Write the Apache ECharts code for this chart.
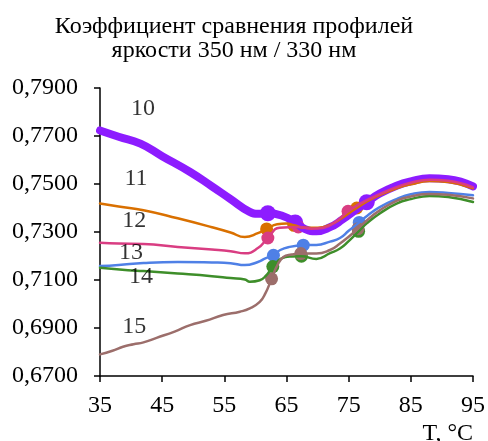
<!DOCTYPE html>
<html>
<head>
<meta charset="utf-8">
<script src="https://cdn.jsdelivr.net/npm/echarts@6/dist/echarts.min.js"></script>
<style>
  html, body { margin: 0; padding: 0; background: #fff; }
  #chart { width: 488px; height: 441px; }
</style>
</head>
<body>
<div id="chart"></div>
<script>
// Temperature (°C) and comparison coefficient per curve; markers sit at listed temperatures.
const t10 = [35, 38, 41.5, 45, 49.5, 53, 56, 59, 60.5, 62, 64.4, 66.4, 68, 69.8, 72, 74, 76, 77.9, 80, 82.7, 85, 88, 91, 95];
const v10 = [0.7723, 0.7697, 0.7668, 0.7616, 0.755, 0.749, 0.7437, 0.7385, 0.7376, 0.7378, 0.7367, 0.734, 0.7312, 0.7303, 0.732, 0.7352, 0.739, 0.7424, 0.746, 0.7493, 0.7511, 0.7524, 0.752, 0.749];
const m10 = [62, 66.4, 77.9];

const t11 = [35, 38, 42, 47.5, 53, 56, 58.3, 60.4, 61.8, 63.5, 65, 66.2, 68, 70, 72, 74, 76.3, 79, 82.7, 85, 88, 91, 95];
const v11 = [0.7419, 0.7406, 0.7391, 0.7357, 0.732, 0.7298, 0.7279, 0.7295, 0.7313, 0.7332, 0.7335, 0.7328, 0.7318, 0.7318, 0.733, 0.736, 0.740, 0.7442, 0.7482, 0.7499, 0.7512, 0.7508, 0.7482];
const m11 = [61.8, 66.2, 76.3];

const t12 = [35, 38, 42, 47.5, 53, 56, 58.3, 60.4, 62, 63.9, 66.9, 69, 71, 73, 74.9, 77, 80, 82.7, 85, 88, 91, 95];
const v12 = [0.7255, 0.7252, 0.725, 0.7238, 0.7227, 0.722, 0.7211, 0.7233, 0.7275, 0.7318, 0.7321, 0.7314, 0.7318, 0.7345, 0.7386, 0.742, 0.7458, 0.7487, 0.7505, 0.7518, 0.7514, 0.7486];
const m12 = [62, 66.9, 74.9];

const t13 = [35, 38, 42, 47.5, 53, 56, 58.3, 60.4, 61.6, 62.9, 64, 65.5, 67.7, 69.8, 72, 73.6, 75, 76.7, 78, 80, 82.7, 85, 88, 91, 95];
const v13 = [0.7158, 0.7163, 0.7171, 0.7175, 0.7173, 0.717, 0.7162, 0.7175, 0.719, 0.7203, 0.7225, 0.7238, 0.7245, 0.7246, 0.726, 0.7275, 0.7305, 0.734, 0.7368, 0.7404, 0.7437, 0.7457, 0.7467, 0.7463, 0.7453];
const m13 = [62.9, 67.7, 76.7];

const t14 = [35, 39.5, 42, 47.5, 53, 56, 58.3, 59.1, 60.7, 61.7, 62.8, 64.2, 65.8, 67.4, 69.8, 72, 73.6, 75, 76.6, 78, 80, 82.7, 85, 88, 91, 95];
const v14 = [0.7151, 0.7141, 0.7137, 0.7127, 0.7116, 0.7108, 0.7102, 0.7093, 0.7099, 0.7118, 0.7156, 0.719, 0.7198, 0.7199, 0.7188, 0.7212, 0.7231, 0.7262, 0.7303, 0.7338, 0.7377, 0.7418, 0.7437, 0.745, 0.7446, 0.7425];
const m14 = [62.8, 67.4, 76.6];

const t15 = [35, 37, 38.7, 40.4, 42, 44.1, 47, 49.5, 52, 54.8, 57.5, 59.1, 60.7, 61.6, 62.6, 63.5, 64.5, 65.8, 67.3, 69.8, 72, 73.6, 75, 76.5, 78, 80, 82.7, 85, 88, 91, 95];
const v15 = [0.679, 0.6805, 0.6822, 0.6832, 0.684, 0.6859, 0.6885, 0.6912, 0.693, 0.6954, 0.6968, 0.6982, 0.7009, 0.7044, 0.7105, 0.716, 0.7196, 0.7206, 0.721, 0.721, 0.7225, 0.7252, 0.728, 0.7314, 0.735, 0.739, 0.743, 0.7448, 0.7458, 0.7455, 0.744];
const m15 = [62.6, 67.3, 76.5];

// Curve numbers written beside each line, placed in data coordinates
const curveNames = ['10', '11', '12', '13', '14', '15'];
const nameT = [41.9, 40.8, 40.5, 40.0, 41.6, 40.5];
const nameV = [0.7815, 0.752, 0.7345, 0.7212, 0.7112, 0.6904];

const xTicks = { min: 35, max: 95, step: 10 };
const yTicks = { min: 0.67, max: 0.79, step: 0.02 };

const SERIF = '"Liberation Serif", "Times New Roman", serif';

const curves = [
  { t: t10, v: v10, m: m10, color: '#8D1CFF', width: 8, mark: 16 },
  { t: t11, v: v11, m: m11, color: '#D97000', width: 2.5, mark: 13 },
  { t: t12, v: v12, m: m12, color: '#D93D82', width: 2.5, mark: 13 },
  { t: t13, v: v13, m: m13, color: '#4F80E6', width: 2.5, mark: 13 },
  { t: t14, v: v14, m: m14, color: '#3E8E2A', width: 2.5, mark: 13 },
  { t: t15, v: v15, m: m15, color: '#9C6E6B', width: 2.5, mark: 13 }
];

const series = [];
curves.forEach(c => {
  const pts = c.t.map((t, i) => [t, c.v[i]]);
  series.push({
    type: 'line',
    data: pts,
    smooth: 0.5,
    showSymbol: false,
    lineStyle: { color: c.color, width: c.width, cap: 'round', join: 'round' },
    silent: true
  });
  series.push({
    type: 'scatter',
    data: c.m.map(t => [t, c.v[c.t.indexOf(t)]]),
    symbol: 'circle',
    symbolSize: c.mark,
    itemStyle: { color: c.color, opacity: 1 },
    silent: true
  });
});

series.push({
  type: 'scatter',
  data: curveNames.map((n, i) => [nameT[i], nameV[i], n]),
  symbolSize: 0,
  label: {
    show: true,
    position: 'inside',
    formatter: p => p.data[2],
    fontFamily: SERIF,
    fontSize: 24,
    color: '#000'
  },
  silent: true,
  z: 10
});

const chart = echarts.init(document.getElementById('chart'), null, { renderer: 'canvas' });
chart.setOption({
  animation: false,
  backgroundColor: '#fff',
  title: {
    text: 'Коэффициент сравнения профилей\nяркости 350 нм / 330 нм',
    left: 229,
    top: 10,
    textAlign: 'center',
    textStyle: { fontFamily: SERIF, fontSize: 24, fontWeight: 'normal', color: '#000', lineHeight: 24 }
  },
  grid: { left: 100, right: 15, top: 88, bottom: 65, containLabel: false },
  xAxis: {
    type: 'value',
    min: xTicks.min, max: xTicks.max, interval: xTicks.step,
    axisLine: { show: true, onZero: false, lineStyle: { color: '#000', width: 1.5 } },
    axisTick: { show: true, length: 6, lineStyle: { color: '#000', width: 1.5 } },
    splitLine: { show: false },
    axisLabel: { fontFamily: SERIF, fontSize: 24, color: '#000', margin: 18 }
  },
  yAxis: {
    type: 'value',
    min: yTicks.min, max: yTicks.max, interval: yTicks.step,
    axisLine: { show: true, onZero: false, lineStyle: { color: '#000', width: 1.5 } },
    axisTick: { show: true, length: 6, lineStyle: { color: '#000', width: 1.5 } },
    splitLine: { show: false },
    axisLabel: {
      fontFamily: SERIF, fontSize: 24, color: '#000', margin: 22,
      formatter: v => v.toFixed(4).replace('.', ',')
    }
  },
  graphic: [{
    type: 'text',
    right: 15,
    top: 422,
    style: { text: 'T, °C', font: '24px ' + SERIF, fill: '#000' }
  }],
  series: series
});
</script>
</body>
</html>
